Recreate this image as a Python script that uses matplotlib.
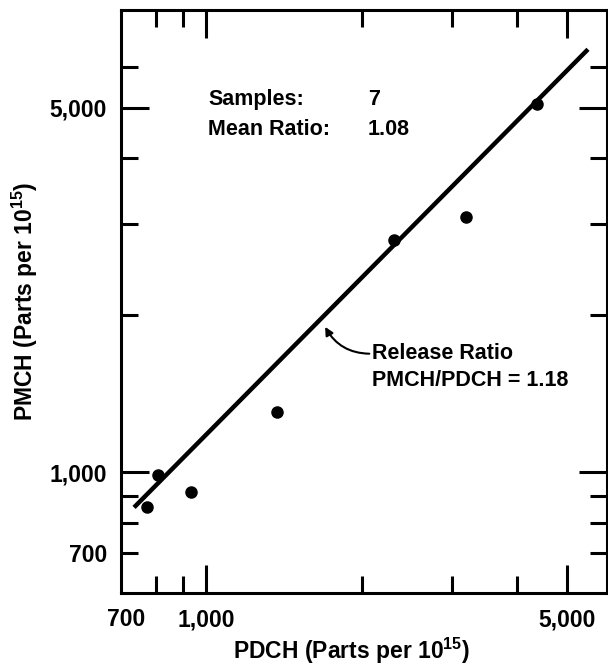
import numpy as np
import matplotlib
matplotlib.use("Agg")
import matplotlib.pyplot as plt
from matplotlib.ticker import FixedLocator, NullFormatter

plt.rcParams['font.family'] = ['Liberation Sans', 'DejaVu Sans']
plt.rcParams['font.weight'] = 'bold'
plt.rcParams['mathtext.fontset'] = 'custom'
plt.rcParams['mathtext.default'] = 'bf'
plt.rcParams['mathtext.bf'] = 'Liberation Sans:bold'
plt.rcParams['mathtext.rm'] = 'Liberation Sans:bold'

# samples (parts per 10^15)
pdch = [768, 806, 934, 1372, 2312, 3187, 4374]
pmch = [857, 987, 915, 1304, 2788, 3087, 5086]

release_ratio = 1.18
n_samples = 7
mean_ratio = 1.08
line_x = [725, 5490]

x_major = [700, 1000, 5000]
x_major_labels = ['700', '1,000', '5,000']
x_minor = [800, 900, 2000, 3000, 4000]
y_major = [700, 1000, 5000]
y_major_labels = ['700', '1,000', '5,000']
y_minor = [800, 900, 2000, 3000, 4000, 6000]

fig = plt.figure(figsize=(6.08, 6.71), dpi=100)
ax = fig.add_axes([0.199, 0.1162, 0.799, 0.869])
ax.set_xscale('log')
ax.set_yscale('log')
ax.set_xlim(684, 5970)
ax.set_ylim(586, 7710)

lx = np.array(line_x)
ax.plot(lx, release_ratio * lx, color='black', lw=3.2, solid_capstyle='butt')
ax.plot(pdch, pmch, 'o', color='black', ms=8)

for s in ax.spines.values():
    s.set_linewidth(2.2)

ax.xaxis.set_major_locator(FixedLocator(x_major))
ax.set_xticklabels(x_major_labels)
ax.xaxis.set_minor_locator(FixedLocator(x_minor))
ax.xaxis.set_minor_formatter(NullFormatter())
ax.yaxis.set_major_locator(FixedLocator(y_major))
ax.set_yticklabels(y_major_labels)
ax.yaxis.set_minor_locator(FixedLocator(y_minor))
ax.yaxis.set_minor_formatter(NullFormatter())

ax.tick_params(which='both', direction='in', top=True, right=True, width=2.2,
               labelsize=16.5)
ax.tick_params(axis='x', pad=11)
ax.tick_params(axis='y', pad=10)
ax.tick_params(which='major', length=20)
ax.tick_params(which='minor', length=12)

# 700 on x has no tick (it sits on the frame), 700 on y has a short one
xt = ax.xaxis.get_major_ticks()[0]
xt.tick1line.set_visible(False)
xt.tick2line.set_visible(False)
yt = ax.yaxis.get_major_ticks()[0]
yt.tick1line.set_markersize(12)
yt.tick2line.set_markersize(12)

for lab in ax.get_xticklabels() + ax.get_yticklabels():
    lab.set_fontweight('bold')

ax.set_xlabel('PDCH (Parts per 10$^{15}$)', fontsize=16.5, fontweight='bold', labelpad=10)
ax.xaxis.set_label_coords(0.475, -0.073)
ax.set_ylabel('PMCH (Parts per 10$^{15}$)', fontsize=16.5, fontweight='bold', labelpad=7)

ax.text(0.179, 0.846, 'Samples:', transform=ax.transAxes, fontsize=15.5,
        fontweight='bold', va='center')
ax.text(0.508, 0.846, str(n_samples), transform=ax.transAxes, fontsize=15.5,
        fontweight='bold', va='center')
ax.text(0.179, 0.795, 'Mean Ratio:', transform=ax.transAxes, fontsize=15.5,
        fontweight='bold', va='center')
ax.text(0.508, 0.795, f'{mean_ratio:.2f}', transform=ax.transAxes, fontsize=15.5,
        fontweight='bold', va='center')

ax.annotate(f'Release Ratio\nPMCH/PDCH = {release_ratio:.2f}',
            xy=(1700, 1900), xytext=(2096, 1590), fontsize=15.5, fontweight='bold',
            ha='left', va='center', linespacing=1.38,
            arrowprops=dict(arrowstyle='-|>', color='black', lw=1.5,
                            mutation_scale=12, shrinkA=0, shrinkB=0,
                            relpos=(0, 0.78),
                            connectionstyle='arc3,rad=-0.3'))

fig.savefig('out.png', dpi=100)
